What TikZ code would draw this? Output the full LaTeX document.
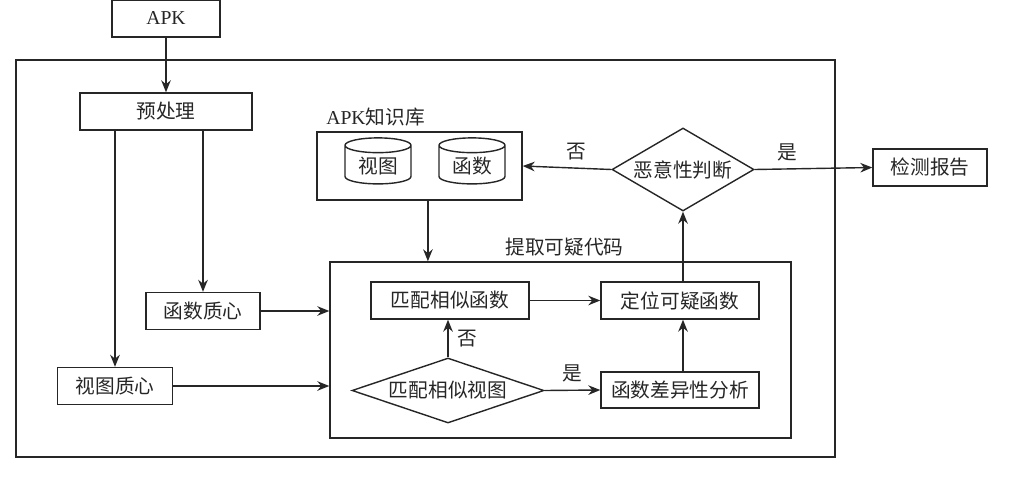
\documentclass[tikz,border=0pt]{standalone}
\usepackage{fontspec}
\setmainfont{Liberation Serif}
\newfontfamily\cjk{Noto Sans CJK SC}
\usetikzlibrary{arrows.meta,positioning,fit,shapes.geometric,calc}
\definecolor{ink}{HTML}{262626}

\begin{document}
\begin{tikzpicture}[x=0.25mm, y=-0.25mm, every node/.style={font=\fontsize{14}{16}\selectfont\cjk, text=ink}, box/.style={draw=ink, line width=1pt, minimum height=9.25mm, inner sep=2pt}, decision/.style={draw=ink, line width=1pt, diamond, inner sep=0pt}, store/.style={draw=ink, line width=1pt, cylinder, shape border rotate=90, aspect=0.35, minimum width=16.5mm, minimum height=11.5mm, inner sep=1pt}, frame/.style={draw=ink, line width=1pt, inner sep=0pt}, arr/.style={draw=ink, line width=1pt, -{Stealth[length=3mm,width=2.4mm]}}]
\useasboundingbox (0,0) rectangle (1012,480);
\node[frame, minimum width=204.75mm, minimum height=99.25mm] (outer) at (425.5,258.5) {};
\node[box, minimum width=27mm] (apk) at (166,18.5) {\rmfamily APK};
\node[box, minimum width=43mm] (pre) at (166,111.5) {预处理};
\node[box, minimum width=28.5mm] (fc) at (203,311) {函数质心};
\node[box, minimum width=28.75mm] (vc) at (115,386) {视图质心};
\node[frame, minimum width=51.25mm, minimum height=17mm, label={[xshift=-11mm]above:{\rmfamily APK}知识库}] (kb) at (419.5,166) {};
\node[store] (sview) at (378,166) {视图};
\node[store] (sfunc) at (472,166) {函数};
\node[frame, minimum width=115.25mm, minimum height=44mm, label={[xshift=1mm]above:提取可疑代码}] (inner) at (560.5,350) {};
\node[box, minimum width=39.5mm] (matchfn) at (450,300.5) {匹配相似函数};
\node[box, minimum width=39.5mm] (locate) at (680,300.5) {定位可疑函数};
\node[decision, aspect=2.95, minimum width=48mm, minimum height=16.25mm] (matchview) at (448,390.5) {匹配相似视图};
\node[box, minimum width=39.5mm, minimum height=9mm] (diff) at (680,390) {函数差异性分析};
\node[decision, aspect=1.71, minimum width=35.5mm, minimum height=20.75mm] (judge) at (683,169.5) {恶意性判断};
\node[box, minimum width=28.5mm] (report) at (930,167.5) {检测报告};
% connectors
\draw[arr] (apk) -- (pre);
\draw[arr] (vc.north |- pre.south) -- (vc.north);
\draw[arr] (fc.north |- pre.south) -- (fc.north);
\draw[arr] (fc.east) -- (inner.west |- fc.east);
\draw[arr] (vc.east) -- (inner.west |- vc.east);
\draw[arr] ([xshift=2.1mm]kb.south) -- ([xshift=2.1mm]kb.south |- inner.north);
\draw[arr] (judge.west) -- node[above=2pt, pos=0.4] {否} (kb.east);
\draw[arr] (judge.east) -- node[above=2pt, pos=0.28] {是} (report.west);
\draw[arr] (locate.north -| judge.south) -- (judge.south);
\draw[arr] (matchfn) -- (locate);
\draw[arr] (matchview.north) -- node[right=3pt] {否} (matchview.north |- matchfn.south);
\draw[arr] (matchview.east) -- node[above=2pt] {是} (diff.west);
\draw[arr] (diff.north -| judge.south) -- (locate.south -| judge.south);
\end{tikzpicture}
\end{document}
